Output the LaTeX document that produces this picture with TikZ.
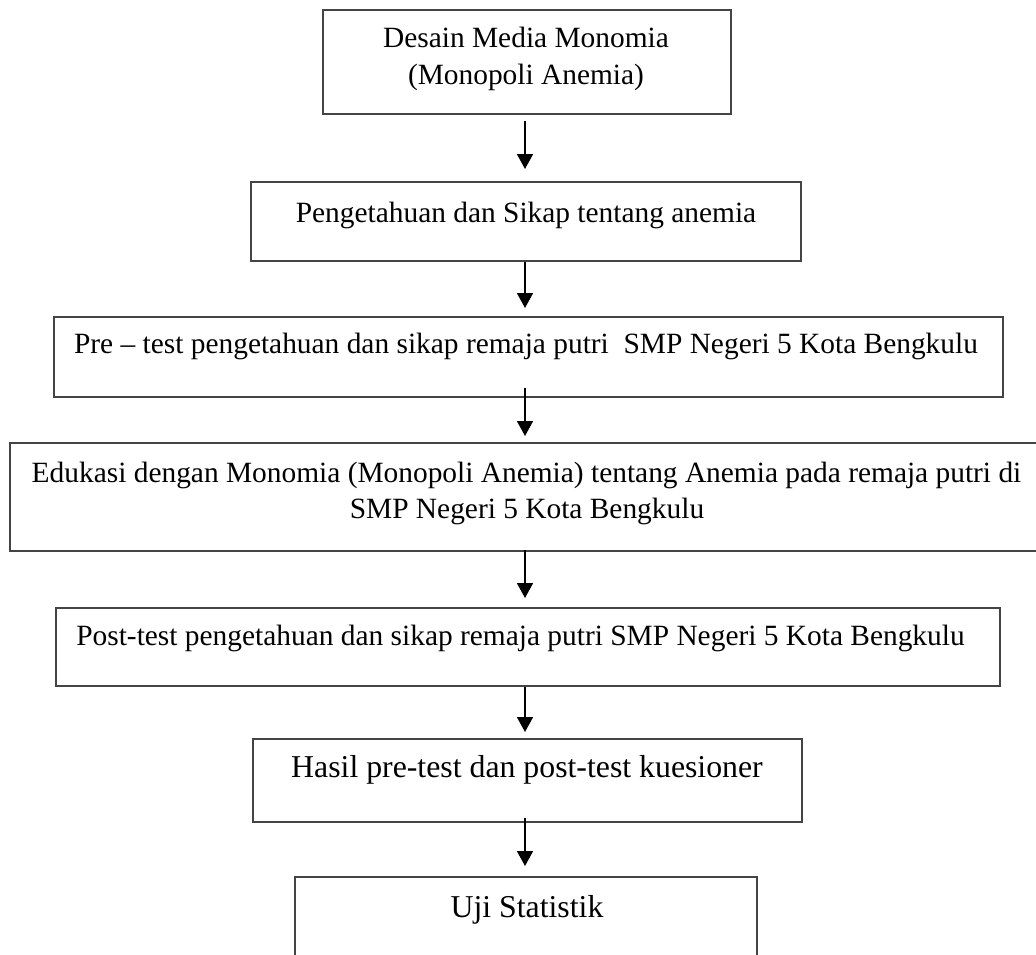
\documentclass[tikz,border=0pt]{standalone}
\usepackage{fontspec}
\setmainfont{Liberation Serif}
\usetikzlibrary{arrows.meta}
\definecolor{boxgray}{HTML}{444444}
\tikzset{
  box/.style={draw=boxgray, line width=2pt, inner sep=0pt, rectangle},
  txt/.style={inner sep=0pt, anchor=base, font=\fontsize{29.4}{35}\selectfont},
  txtbig/.style={txt, font=\fontsize{31.8}{38}\selectfont},
  arr/.style={-{Triangle[length=15pt,width=16pt]}, line width=1.7pt, black},
}
\begin{document}
\begin{tikzpicture}[x=1pt,y=-1pt]
\useasboundingbox (0,0) rectangle (1036,954);
% boxes
\node[box, minimum width=408pt,  minimum height=104pt] (b1) at (527,62) {};
\node[box, minimum width=550pt,  minimum height=79pt]  (b2) at (526,221.5) {};
\node[box, minimum width=949pt,  minimum height=80pt]  (b3) at (528.5,357) {};
\node[box, minimum width=1035.5pt, minimum height=108pt] (b4) at (527.25,497) {};
\node[box, minimum width=944pt,  minimum height=78pt]  (b5) at (528,647) {};
\node[box, minimum width=549pt,  minimum height=83pt]  (b6) at (527.5,780.5) {};
\node[box, minimum width=462pt,  minimum height=123pt] (b7) at (526,938.5) {};
% texts
\node[txt] (t1a) at (526,47) {Desain Media Monomia};
\node[txt] (t1b) at (526,84) {(Monopoli Anemia)};
\node[txt] (t2) at (526,222) {Pengetahuan dan Sikap tentang anemia};
\node[txt] (t3) at (526,353) {Pre – test pengetahuan dan sikap remaja putri\ \ SMP Negeri 5 Kota Bengkulu};
\node[txt] (t4a) at (526.5,482) {Edukasi dengan Monomia (Monopoli Anemia) tentang Anemia pada remaja putri di};
\node[txt] (t4b) at (527,518) {SMP Negeri 5 Kota Bengkulu};
\node[txt] (t5) at (520.5,645) {Post-test pengetahuan dan sikap remaja putri SMP Negeri 5 Kota Bengkulu};
\node[txtbig] (t6) at (527,777) {Hasil pre-test dan post-test kuesioner};
\node[txtbig] (t7) at (527,917) {Uji Statistik};
% arrows
\coordinate (ax) at (525,0);
\draw[arr] ([yshift=-6pt]b1.south -| ax) -- ([yshift=12pt]b2.north -| ax);
\draw[arr] (b2.south -| ax) -- ([yshift=8pt]b3.north -| ax);
\draw[arr] ([yshift=10pt]b3.south -| ax) -- ([yshift=6pt]b4.north -| ax);
\draw[arr] ([yshift=2pt]b4.south -| ax) -- ([yshift=9pt]b5.north -| ax);
\draw[arr] (b5.south -| ax) -- ([yshift=6pt]b6.north -| ax);
\draw[arr] ([yshift=5pt]b6.south -| ax) -- ([yshift=10pt]b7.north -| ax);
\end{tikzpicture}
\end{document}
